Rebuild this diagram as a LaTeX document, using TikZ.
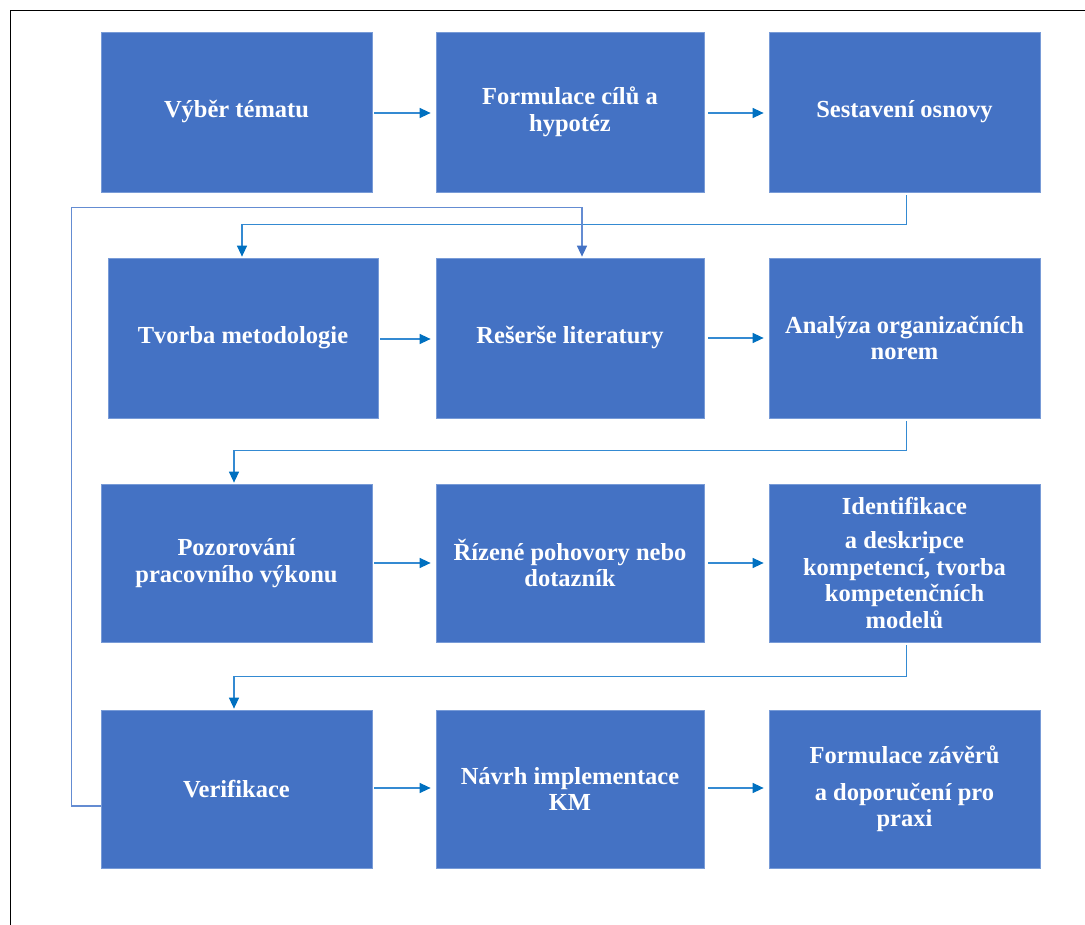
\documentclass[tikz,border=0pt]{standalone}
\usepackage{fontspec}
\setmainfont{Liberation Serif}
\usetikzlibrary{arrows.meta,calc}
\definecolor{boxblue}{RGB}{68,114,196}
\definecolor{boxedge}{RGB}{120,155,215}
\definecolor{arrblue}{RGB}{0,112,192}
\definecolor{lineblue}{RGB}{52,138,210}
\definecolor{loopblue}{RGB}{100,140,210}
\begin{document}
\begin{tikzpicture}[x=1pt,y=-1pt,
  box/.style={fill=boxblue,draw=boxedge,line width=0.7pt,minimum width=271pt,minimum height=160pt,inner sep=0pt,align=center,text=white,font=\bfseries\fontsize{24.5}{26.5}\selectfont},
  arr/.style={draw=lineblue,line width=1.3pt,-{Triangle[length=11pt,width=10pt,color=arrblue]}},
  looparr/.style={draw=loopblue,line width=1.4pt,-{Triangle[length=11pt,width=10pt,color=boxblue]}}]
\useasboundingbox (0,0) rectangle (1085,925);
\draw[line width=1.8pt] (10.5,940) -- (10.5,10.5) -- (1100,10.5);
\node[box] (n1) at (236.5,112) {Výběr tématu};
\node[box,minimum width=268pt] (n2) at (570,112) {Formulace cílů a\\hypotéz};
\node[box] (n3) at (904.5,112) {Sestavení osnovy};
\node[box,minimum width=270pt] (n4) at (243,338) {Tvorba metodologie};
\node[box,minimum width=268pt] (n5) at (570,338) {Rešerše literatury};
\node[box] (n6) at (904.5,338) {Analýza organizačních\\norem};
\node[box,minimum height=158pt] (n7) at (236.5,563) {Pozorování\\pracovního výkonu};
\node[box,minimum width=268pt,minimum height=158pt] (n8) at (570,563) {Řízené pohovory nebo\\dotazník};
\node[box,minimum height=158pt] (n9) at (904.5,563) {Identifikace\\[8pt]a deskripce\\kompetencí, tvorba\\kompetenčních\\modelů};
\node[box,minimum height=158pt] (n10) at (236.5,789) {Verifikace};
\node[box,minimum width=268pt,minimum height=158pt] (n11) at (570,789) {Návrh implementace\\KM};
\node[box,minimum height=158pt] (n12) at (904.5,789) {Formulace závěrů\\[10pt]a doporučení pro\\praxi};
% horizontal arrows
\draw[arr] ($(n1.east)+(2,1)$) -- ($(n2.west)+(-5,1)$);
\draw[arr] ($(n2.east)+(4,1)$) -- ($(n3.west)+(-5,1)$);
\draw[arr] ($(n4.east)+(2,1)$) -- ($(n5.west)+(-5,1)$);
\draw[arr] ($(n5.east)+(4,0)$) -- ($(n6.west)+(-5,0)$);
\draw[arr] ($(n7.east)+(2,0)$) -- ($(n8.west)+(-5,0)$);
\draw[arr] ($(n8.east)+(4,0)$) -- ($(n9.west)+(-5,0)$);
\draw[arr] ($(n10.east)+(2,-1)$) -- ($(n11.west)+(-5,-1)$);
\draw[arr] ($(n11.east)+(4,-1)$) -- ($(n12.west)+(-5,-1)$);
% row connectors
\draw[arr] ($(n3.south)+(2,3)$) -- ++(0,29) -| ($(n4.north)+(-1,-1)$);
\draw[arr] ($(n6.south)+(2,3)$) -- ++(0,29) -| ($(n7.north)+(-2.5,-1)$);
\draw[arr] ($(n9.south)+(2,3)$) -- ++(0,31) -| ($(n10.north)+(-2.5,-1)$);
% feedback loop
\draw[looparr] ($(n10.west)+(0,17)$) -- ++(-29,0) |- ($(n5.north)+(12,-50)$) -- ($(n5.north)+(12,-1)$);
\end{tikzpicture}
\end{document}
